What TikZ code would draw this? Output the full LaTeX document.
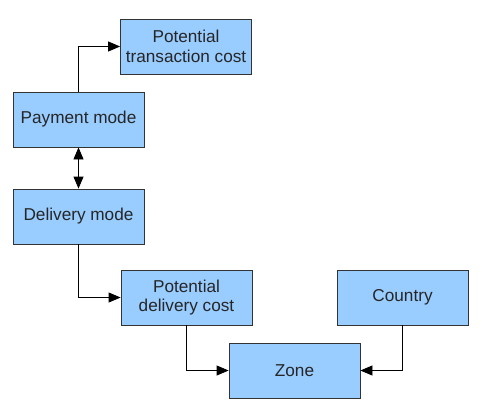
\documentclass[tikz,border=0pt]{standalone}
\usepackage{fontspec}
\setmainfont{Liberation Sans}
\usetikzlibrary{arrows.meta}
\definecolor{boxfill}{HTML}{99CCFF}
\definecolor{boxline}{HTML}{333333}
\begin{document}
\begin{tikzpicture}[x=1bp,y=-1bp,
  box/.style={draw=boxline,fill=boxfill,line width=0.8bp,minimum width=131bp,minimum height=55bp,
    inner sep=0pt,align=center,font=\fontsize{17.2bp}{19.5bp}\selectfont,text=black!85},
  conn/.style={draw=black,line width=0.8bp,-{Triangle[length=12bp,width=10bp]}},
  conn2/.style={draw=black,line width=0.8bp,{Triangle[length=12bp,width=10bp]}-{Triangle[length=12bp,width=10bp]}}]
\useasboundingbox (0,0) rectangle (482,418);
\node[box] (ptc) at (186,46.5) {Potential\\transaction cost};
\node[box] (pay) at (78.5,119.5) {Payment mode};
\node[box] (del) at (78.5,216.5) {Delivery mode};
\node[box] (pdc) at (186.5,297.5) {Potential\\delivery cost};
\node[box] (cty) at (402.5,297.5) {Country};
\node[box] (zone) at (294.5,370.5) {Zone};
\draw[conn] (pay.north) |- (ptc.west);
\draw[conn2] (pay.south) -- (del.north);
\draw[conn] (del.south) |- (pdc.west);
\draw[conn] (pdc.south) |- (zone.west);
\draw[conn] (cty.south) |- (zone.east);
\end{tikzpicture}
\end{document}
